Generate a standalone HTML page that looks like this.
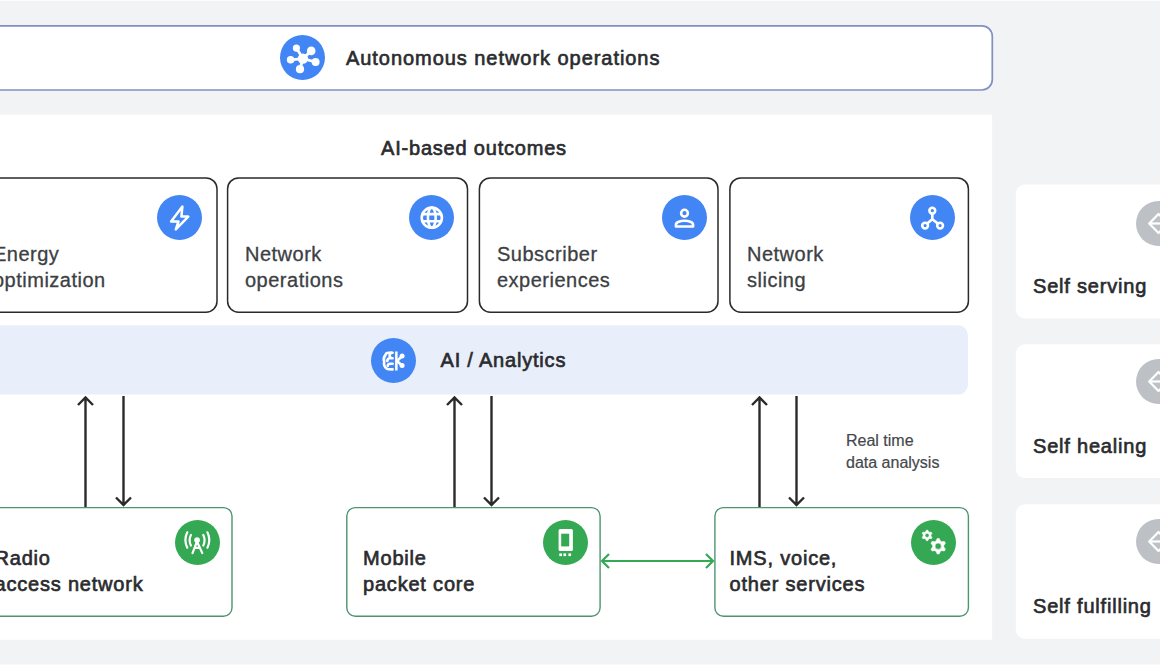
<!DOCTYPE html>
<html><head><meta charset="utf-8">
<style>
html,body{margin:0;padding:0;}
body{width:1160px;height:665px;overflow:hidden;position:relative;background:#f1f3f4;font-family:"Liberation Sans",sans-serif;color:#3c4043;}
.abs{position:absolute;}
.ic{position:absolute;border-radius:50%;}
.blue{background:#4285f4;}
.green{background:#34a853;}
.gray{background:#bdc1c6;}
.ic svg{position:absolute;left:0;top:0;}
.t{position:absolute;white-space:nowrap;line-height:1;}
.b{font-weight:normal;color:#2a2b2e;-webkit-text-stroke:0.65px #2a2b2e;letter-spacing:0.8px;}
.ctext{position:absolute;font-size:20px;line-height:26.4px;color:#3c4043;letter-spacing:0.5px;white-space:nowrap;-webkit-text-stroke:0.3px #3c4043;}
.gtext{position:absolute;font-size:20px;line-height:26px;font-weight:normal;color:#2a2b2e;-webkit-text-stroke:0.65px #2a2b2e;letter-spacing:0.8px;white-space:nowrap;}
.rtext{position:absolute;font-size:20px;line-height:1;font-weight:normal;color:#2a2b2e;-webkit-text-stroke:0.65px #2a2b2e;letter-spacing:0.8px;white-space:nowrap;}
</style></head><body>
<svg class="abs" style="left:0;top:0;" width="1160" height="665">
<rect x="-20" y="25.9" width="1012.3" height="64.1" rx="10.5" fill="#fff" stroke="#8390c4" stroke-width="1.7"/>
<rect x="-10" y="114.6" width="1002.2" height="525.2" fill="#fff"/>
<rect x="0" y="0" width="1160" height="1" fill="#fdfdfd"/>
<rect x="0" y="664" width="1160" height="1" fill="#f9f9fa"/>
<g fill="#fff" stroke="#2a2a2a" stroke-width="1.5">
<rect x="-22" y="177.9" width="239" height="134.4" rx="11"/>
<rect x="227.6" y="177.9" width="239.9" height="134.4" rx="11"/>
<rect x="479.4" y="177.9" width="238.6" height="134.4" rx="11"/>
<rect x="729.9" y="177.9" width="238.5" height="134.4" rx="11"/>
</g>
<rect x="-20" y="325.2" width="988" height="69.4" rx="10" fill="#e8eefa"/>
<g fill="#fff" stroke="#4f9470" stroke-width="1.4">
<rect x="-21.4" y="507.6" width="253.4" height="108.7" rx="8.5"/>
<rect x="346.8" y="507.6" width="253.3" height="108.7" rx="8.5"/>
<rect x="714.9" y="507.6" width="253.5" height="108.7" rx="8.5"/>
</g>
<g fill="#fff">
<rect x="1015.8" y="184.5" width="200" height="133.9" rx="9"/>
<rect x="1015.8" y="344.3" width="200" height="133.8" rx="9"/>
<rect x="1015.8" y="504.3" width="200" height="134.5" rx="9"/>
</g>
<g stroke="#2b2b2b" stroke-width="2.4" fill="none">
<path d="M85.5 507V398M78 405l7.5-7.5 7.5 7.5"/>
<path d="M123.5 396V505M116 497.5l7.5 7.5 7.5-7.5"/>
<path d="M454.5 507V398M447 405l7.5-7.5 7.5 7.5"/>
<path d="M491.5 396V505M484 497.5l7.5 7.5 7.5-7.5"/>
<path d="M759.5 507V398M752 405l7.5-7.5 7.5 7.5"/>
<path d="M796.5 396V505M789 497.5l7.5 7.5 7.5-7.5"/>
</g>
<g stroke="#34a853" stroke-width="2.2" fill="none">
<path d="M602 561H713M609 554l-7 7 7 7M706 554l7 7-7 7"/>
</g>
</svg>
<div class="ic blue" style="left:280.2px;top:35.0px;width:45px;height:45px;"><svg viewBox="-22.5 -22.5 45 45" width="45" height="45"><g transform="translate(0.9 0.3)"><g stroke="#fff" stroke-width="2.8" fill="none"><path d="M-0.5 0.8L-7 -9.7M-0.5 0.8L7.8 -6.9M-0.5 0.8L-12.8 2M-0.5 0.8L12.2 4.2M-0.5 0.8L-3.4 11.4"/></g><g fill="#fff"><circle cx="-0.5" cy="0.8" r="5.2"/><circle cx="-7" cy="-9.7" r="3.6"/><circle cx="7.8" cy="-6.9" r="4.3"/><circle cx="-12.8" cy="2" r="3.8"/><circle cx="12.2" cy="4.2" r="4"/><circle cx="-3.4" cy="11.4" r="4.1"/></g></g></svg></div>
<div class="t b" style="left:346px;top:48px;font-size:20px;letter-spacing:0.95px;">Autonomous network operations</div>
<div class="t b" style="left:381px;top:138px;font-size:20px;">AI-based outcomes</div>
<div class="ctext" style="left:-7px;top:240.5px;">Energy<br>optimization</div>
<div class="ic blue" style="left:157.3px;top:195.3px;width:45px;height:45px;"><svg viewBox="-22.5 -22.5 45 45" width="45" height="45"><path d="M2.9 -11.1L-8.4 4H-1L-3.7 11.9L8.8 -0.9H1.9Z" fill="none" stroke="#fff" stroke-width="2.5" stroke-linejoin="round"/></svg></div>
<div class="ctext" style="left:245px;top:240.5px;">Network<br>operations</div>
<div class="ic blue" style="left:408.9px;top:195.3px;width:45px;height:45px;"><svg viewBox="-22.5 -22.5 45 45" width="45" height="45"><g fill="none" stroke="#fff" stroke-width="2.6"><circle cx="0.3" cy="0.2" r="10.1"/><ellipse cx="0.3" cy="0.2" rx="3.9" ry="10.1"/><path d="M-10 -3.4H10.6M-10 3.7H10.6"/></g></svg></div>
<div class="ctext" style="left:497px;top:240.5px;">Subscriber<br>experiences</div>
<div class="ic blue" style="left:661.7px;top:195.3px;width:45px;height:45px;"><svg viewBox="-22.5 -22.5 45 45" width="45" height="45"><g fill="none" stroke="#fff" stroke-width="2.6"><circle cx="0" cy="-4.3" r="3.4"/><path d="M-8.6 9V7.5Q-8.6 5.4 -6.4 4.5Q-3.4 3.3 0 3.3Q3.4 3.3 6.4 4.5Q8.6 5.4 8.6 7.5V9Z" stroke-linejoin="round"/></g></svg></div>
<div class="ctext" style="left:747px;top:240.5px;">Network<br>slicing</div>
<div class="ic blue" style="left:910.3px;top:195.3px;width:45px;height:45px;"><svg viewBox="-22.5 -22.5 45 45" width="45" height="45"><g fill="none" stroke="#fff" stroke-width="2.6" transform="translate(0.1 0.8)"><path d="M-0.3 1L-0.3 -4.6M-0.3 1L-5.4 5.3M-0.3 1L5.4 5.3"/><circle cx="-0.3" cy="-7.6" r="2.9"/><circle cx="-7.5" cy="7.3" r="2.9"/><circle cx="7.5" cy="7.3" r="2.9"/></g></svg></div>
<div class="ic blue" style="left:371.1px;top:338.3px;width:45px;height:45px;"><svg viewBox="-22.5 -22.5 45 45" width="45" height="45"><g fill="none" stroke="#fff" stroke-width="2.6" stroke-linejoin="round" stroke-linecap="round"><path d="M-0.9 -7.8H-5Q-7.5 -7.8 -8 -5.5Q-10.6 -3 -9.3 1Q-10.3 6 -6.5 8.4Q-5.5 8.9 -0.9 8.9"/><path d="M-0.9 -2.3H-3.8Q-6 -2.3 -6.2 0.5M-0.9 3.3H-3.5Q-5.5 3.3 -5.8 5.5M-2.5 -7.8Q-5 -5 -3 -3"/></g><rect x="1.6" y="-9" width="2.5" height="19" fill="#fff"/><g stroke="#fff" stroke-width="2.6" stroke-linecap="round" fill="none"><path d="M3.5 0.5L8.5 -4.3M3.5 0.5L8.5 5"/></g><circle cx="8.6" cy="-4.4" r="2.5" fill="#fff"/><circle cx="8.6" cy="5.1" r="2.5" fill="#fff"/></svg></div>
<div class="t b" style="left:440.5px;top:350px;font-size:20px;">AI / Analytics</div>
<div class="t" style="left:846px;top:430px;font-size:16px;line-height:22px;color:#45484b;-webkit-text-stroke:0.2px #45484b;">Real time<br>data analysis</div>
<div class="gtext" style="left:-5.5px;top:545px;">Radio<br>access network</div>
<div class="ic green" style="left:174.5px;top:520.0px;width:45px;height:45px;"><svg viewBox="-22.5 -22.5 45 45" width="45" height="45"><g fill="none" stroke="#fff" stroke-width="2.2" stroke-linecap="round"><path d="M-0.5 -1L-5 10.6M-0.5 -1L4.8 10.6M-3 5.3H2.5"/><path d="M-6.6 -7.6Q-9.2 -2.3 -6.6 3M5.8 -7.6Q8.4 -2.3 5.8 3"/><path d="M-10.2 -10.2Q-14 -2.5 -10.2 5.2M9.9 -10.2Q13.7 -2.5 9.9 5.2"/></g><circle cx="-0.4" cy="-2.4" r="2.9" fill="#fff"/></svg></div>
<div class="gtext" style="left:363px;top:545px;">Mobile<br>packet core</div>
<div class="ic green" style="left:542.7px;top:520.0px;width:45px;height:45px;"><svg viewBox="-22.5 -22.5 45 45" width="45" height="45"><rect x="-6.9" y="-13.6" width="14.3" height="22" rx="1.5" fill="#fff"/><rect x="-4.3" y="-8.8" width="8" height="12.7" fill="#34a853"/><g fill="#fff"><rect x="-6.2" y="10.9" width="2.7" height="2.7"/><rect x="-2.1" y="10.9" width="2.7" height="2.7"/><rect x="2.9" y="10.9" width="2.7" height="2.7"/></g></svg></div>
<div class="gtext" style="left:729.5px;top:545px;">IMS, voice,<br>other services</div>
<div class="ic green" style="left:911.1px;top:520.0px;width:45px;height:45px;"><svg viewBox="-22.5 -22.5 45 45" width="45" height="45"><path d="M-7.09 -12.35 L-5.71 -12.35 L-4.91 -10.70 L-4.03 -10.19 L-2.20 -10.33 L-1.50 -9.13 L-2.53 -7.61 L-2.53 -6.59 L-1.50 -5.07 L-2.20 -3.87 L-4.03 -4.01 L-4.91 -3.50 L-5.71 -1.85 L-7.09 -1.85 L-7.89 -3.50 L-8.77 -4.01 L-10.60 -3.87 L-11.30 -5.07 L-10.27 -6.59 L-10.27 -7.61 L-11.30 -9.13 L-10.60 -10.33 L-8.77 -10.19 L-7.89 -10.70Z M-4.30 -7.10 A2.1 2.1 0 1 0 -8.50 -7.10 A2.1 2.1 0 1 0 -4.30 -7.10Z" fill="#fff" fill-rule="evenodd" stroke="#fff" stroke-width="0.6" stroke-linejoin="round"/><path d="M3.68 -4.03 L5.72 -4.03 L6.84 -1.47 L8.11 -0.74 L10.89 -1.05 L11.91 0.72 L10.25 2.97 L10.25 4.43 L11.91 6.68 L10.89 8.45 L8.11 8.14 L6.84 8.87 L5.72 11.43 L3.68 11.43 L2.56 8.87 L1.29 8.14 L-1.49 8.45 L-2.51 6.68 L-0.85 4.43 L-0.85 2.97 L-2.51 0.72 L-1.49 -1.05 L1.29 -0.74 L2.56 -1.47Z M7.90 3.70 A3.2 3.2 0 1 0 1.50 3.70 A3.2 3.2 0 1 0 7.90 3.70Z" fill="#fff" fill-rule="evenodd" stroke="#fff" stroke-width="0.6" stroke-linejoin="round"/></svg></div>
<div class="rtext" style="left:1033px;top:276px;">Self serving</div>
<div class="ic gray" style="left:1136.2px;top:201.4px;width:45px;height:45px;"><svg viewBox="-22.5 -22.5 45 45" width="45" height="45"><g fill="none" stroke="#fff" stroke-width="2.2" stroke-linejoin="round"><path d="M0 -9.5L-9.3 0L0 9.5L9.3 0Z"/><path d="M-9.3 0H9"/></g></svg></div>
<div class="rtext" style="left:1033px;top:436px;">Self healing</div>
<div class="ic gray" style="left:1136.2px;top:359.1px;width:45px;height:45px;"><svg viewBox="-22.5 -22.5 45 45" width="45" height="45"><g fill="none" stroke="#fff" stroke-width="2.2" stroke-linejoin="round"><path d="M0 -9.5L-9.3 0L0 9.5L9.3 0Z"/><path d="M-9.3 0H9"/></g></svg></div>
<div class="rtext" style="left:1033px;top:596px;">Self fulfilling</div>
<div class="ic gray" style="left:1136.2px;top:518.8px;width:45px;height:45px;"><svg viewBox="-22.5 -22.5 45 45" width="45" height="45"><g fill="none" stroke="#fff" stroke-width="2.2" stroke-linejoin="round"><path d="M0 -9.5L-9.3 0L0 9.5L9.3 0Z"/><path d="M-9.3 0H9"/></g></svg></div>
</body></html>
